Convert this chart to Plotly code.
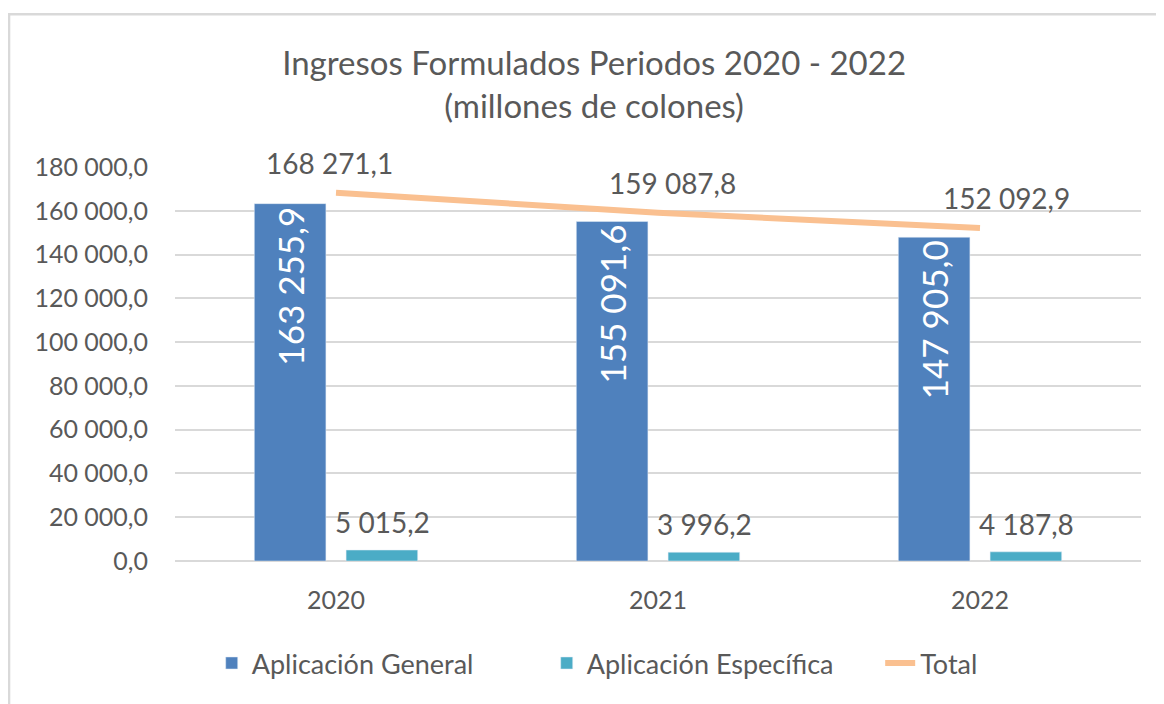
import plotly.graph_objects as go

# Data
years = ["2020", "2021", "2022"]
general = [163255.9, 155091.6, 147905.0]
especifica = [5015.2, 3996.2, 4187.8]
total = [168271.1, 159087.8, 152092.9]
y_ticks = [0, 20000, 40000, 60000, 80000, 100000, 120000, 140000, 160000, 180000]

COLORS = {
    "general": "#4F81BD",
    "especifica": "#4BACC6",
    "total": "#FAC090",
    "text": "#595959",
    "grid": "#D9D9D9",
}
FONT = "Lato, Carlito, Calibri, sans-serif"


def fmt(v):
    s = f"{v:,.1f}"
    return s.replace(",", " ").replace(".", ",")


fig = go.Figure()
fig.add_bar(
    name="Aplicación General",
    x=years,
    y=general,
    marker_color=COLORS["general"],
    text=[fmt(v) for v in general],
    textposition="inside",
    insidetextanchor="end",
    textangle=-90,
    textfont=dict(color="white", size=35, family=FONT),
)
fig.add_bar(
    name="Aplicación Específica",
    x=years,
    y=especifica,
    marker_color=COLORS["especifica"],
)
fig.add_scatter(
    name="Total",
    x=years,
    y=total,
    mode="lines",
    line=dict(color=COLORS["total"], width=6),
    legend="legend2",
)

# labels for the small bars and the total line (x = category index)
for i, v in enumerate(especifica):
    fig.add_annotation(x=i, y=v, text=fmt(v), showarrow=False, xshift=46, yshift=28,
                       font=dict(size=28, color=COLORS["text"], family=FONT))
for i, (v, dx) in enumerate(zip(total, [-7, 14, 26])):
    fig.add_annotation(x=i, y=v, text=fmt(v), showarrow=False, xshift=dx, yshift=30,
                       font=dict(size=28, color=COLORS["text"], family=FONT))

# chart frame (left and top edges visible)
fig.add_shape(type="rect", xref="paper", yref="paper",
              x0=-0.1718, x1=1.05, y0=-0.45, y1=1.388,
              line=dict(color=COLORS["grid"], width=2.5), layer="below")

legend_font = dict(size=27, color=COLORS["text"], family=FONT)
fig.update_layout(
    width=1156,
    height=696,
    separators=", ",
    barmode="group",
    bargap=0.43,
    bargroupgap=0.22,
    paper_bgcolor="white",
    plot_bgcolor="white",
    margin=dict(l=167, r=23, t=159, b=143),
    font=dict(family=FONT, color=COLORS["text"], size=25),
    title=dict(
        text="Ingresos Formulados Periodos 2020 - 2022<br>(millones de colones)",
        x=0.507, xanchor="center", y=0.904, yanchor="middle",
        font=dict(size=33, color=COLORS["text"], family=FONT),
    ),
    legend=dict(
        orientation="h", x=0.038, xanchor="left", y=-0.26, yanchor="middle",
        font=legend_font, entrywidth=290, traceorder="normal",
    ),
    legend2=dict(
        orientation="h", x=0.73, xanchor="left", y=-0.26, yanchor="middle",
        font=legend_font,
    ),
    showlegend=True,
)
fig.update_xaxes(type="category", range=[-0.5, 2.5], showgrid=False, showline=False,
                 ticks="", ticklabelstandoff=22, tickfont=dict(size=25))
fig.update_yaxes(
    range=[0, 180000],
    tickvals=y_ticks,
    tickformat=",.1f",
    showgrid=True,
    gridcolor=COLORS["grid"],
    gridwidth=2,
    zeroline=True,
    zerolinecolor=COLORS["grid"],
    zerolinewidth=2,
    ticks="",
    ticklabelstandoff=26,
    tickfont=dict(size=25),
)

fig.write_html("out.html")
